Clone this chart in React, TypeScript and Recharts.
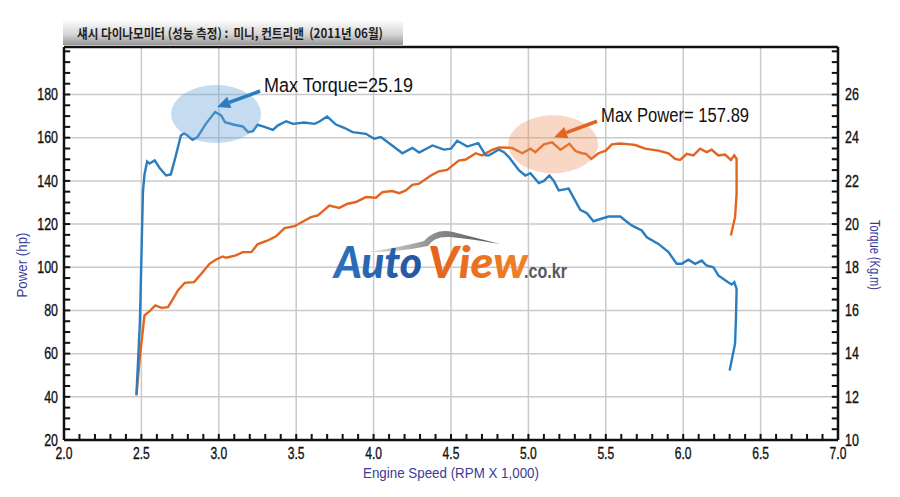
import React from "react";
import {
  CartesianGrid,
  Line,
  LineChart,
  ReferenceDot,
  ReferenceLine,
  XAxis,
  YAxis,
} from "recharts";

// axis ticks (labelled) and the small unlabelled ones in between
const rpmTicks = [2, 2.5, 3, 3.5, 4, 4.5, 5, 5.5, 6, 6.5, 7];
const powerTicks = [20, 40, 60, 80, 100, 120, 140, 160, 180];
const torqueTicks = [10, 12, 14, 16, 18, 20, 22, 24, 26];
const rpmMinorTicks = Array.from({ length: 49 }, (_, i) => +(2.1 + i * 0.1).toFixed(1));
const powerMinorTicks = Array.from({ length: 36 }, (_, i) => 25 + i * 5);
const torqueMinorTicks = Array.from({ length: 36 }, (_, i) => 10.5 + i * 0.5);

// torque curve (Kg.m)
const torqueRpm = [
  2.468, 2.49, 2.51, 2.52, 2.537, 2.553, 2.586, 2.618, 2.66, 2.69, 2.72, 2.755,
  2.776, 2.798, 2.83, 2.862, 2.916, 2.976, 3.015, 3.04, 3.1, 3.155, 3.19, 3.22,
  3.25, 3.295, 3.35, 3.38, 3.435, 3.48, 3.55, 3.62, 3.65, 3.7, 3.757, 3.81,
  3.864, 3.95, 4.004, 4.047, 4.12, 4.186, 4.25, 4.294, 4.38, 4.455, 4.5, 4.54,
  4.605, 4.676, 4.724, 4.745, 4.81, 4.842, 4.874, 4.94, 4.98, 5.013, 5.067, 5.1,
  5.136, 5.164, 5.196, 5.26, 5.29, 5.335, 5.378, 5.42, 5.45, 5.518, 5.593,
  5.667, 5.732, 5.765, 5.84, 5.905, 5.958, 5.99, 6.034, 6.077, 6.12, 6.15,
  6.195, 6.227, 6.29, 6.313, 6.33, 6.345, 6.341, 6.335, 6.3,
];
const torqueKgm = [
  12.1, 15.4, 21.5, 22.3, 22.9, 22.8, 22.95, 22.6, 22.25, 22.3, 23.1, 24.1,
  24.2, 24.1, 23.9, 24.03, 24.64, 25.19, 25.03, 24.72, 24.6, 24.52, 24.26, 24.3,
  24.6, 24.5, 24.36, 24.56, 24.76, 24.64, 24.7, 24.64, 24.75, 24.98, 24.61,
  24.46, 24.26, 24.18, 23.95, 24.03, 23.64, 23.28, 23.53, 23.31, 23.64, 23.45,
  23.49, 23.86, 23.59, 23.75, 23.18, 23.18, 23.45, 23.33, 23.1, 22.48, 22.25,
  22.36, 21.9, 22.0, 22.25, 22.0, 21.56, 21.64, 21.25, 20.66, 20.5, 20.13, 20.2,
  20.35, 20.35, 19.94, 19.7, 19.39, 19.08, 18.7, 18.16, 18.16, 18.35, 18.16,
  18.31, 18.08, 18.0, 17.62, 17.31, 17.2, 17.31, 17.0, 15.69, 14.46, 13.22,
];

// power curve (hp)
const powerRpm = [
  2.468, 2.49, 2.52, 2.553, 2.59, 2.63, 2.672, 2.704, 2.736, 2.78, 2.84, 2.887,
  2.94, 2.983, 3.026, 3.047, 3.11, 3.155, 3.21, 3.25, 3.316, 3.37, 3.425, 3.49,
  3.55, 3.595, 3.64, 3.68, 3.714, 3.778, 3.832, 3.886, 3.95, 4.015, 4.057, 4.12,
  4.165, 4.208, 4.25, 4.294, 4.37, 4.42, 4.475, 4.55, 4.595, 4.66, 4.7, 4.767,
  4.81, 4.895, 4.96, 5.013, 5.045, 5.1, 5.153, 5.207, 5.265, 5.304, 5.346,
  5.372, 5.406, 5.453, 5.5, 5.539, 5.593, 5.658, 5.69, 5.754, 5.84, 5.905,
  5.948, 5.98, 6.023, 6.066, 6.109, 6.152, 6.184, 6.227, 6.27, 6.308, 6.33,
  6.345, 6.345, 6.335, 6.308,
];
const powerHp = [
  40.6, 58.4, 77.7, 79.7, 82.3, 81.2, 81.5, 85.4, 89.3, 92.8, 93.1, 97, 101.6,
  103.6, 105, 104.4, 105.5, 107, 107, 110.6, 112.4, 114.3, 118.1, 119, 121.4,
  123.2, 124, 126.5, 128.6, 127.5, 129.4, 130.2, 132.5, 132.2, 134.8, 135.3,
  134.3, 135.6, 138.2, 138.7, 142.5, 144.4, 145.1, 149.4, 149.9, 152.8, 151.8,
  154.4, 155.5, 155.3, 152.8, 154.9, 153.3, 156.9, 157.89, 154.4, 157.2, 153.8,
  152.8, 152.5, 150.2, 152.8, 154, 156.9, 157.3, 156.9, 156.6, 154.9, 154,
  152.8, 150.2, 149.7, 152.5, 151.8, 154.9, 153.3, 154.4, 151.8, 152.2, 149.7,
  151.8, 150.2, 134, 123.2, 114.7,
];

const maxTorque = { rpm: 2.976, value: 25.19 };
const maxPower = { rpm: 5.153, value: 157.89 };

const torqueData = torqueRpm.map((rpm, i) => ({ rpm, torque: torqueKgm[i] }));
const powerData = powerRpm.map((rpm, i) => ({ rpm, power: powerHp[i] }));

const LABEL_COLOR = "#3b3b98";
const BLUE = "#2a7dbf";
const ORANGE = "#e2651f";

// length of the little inward ticks, in axis units (about 6px each)
const RPM_TICK_LEN = 0.04;
const POWER_TICK_LEN = 2.8;

// condensed tick label, like the dyno software's narrow font
function NarrowTick(props: any) {
  const { x, y, textAnchor, payload, fixed, side } = props;
  const value = payload.value as number;
  const label = fixed ? value.toFixed(fixed) : String(value);
  const digits = label.replace(/[^0-9]/g, "").length;
  const dots = label.length - digits;
  return (
    <text
      x={x}
      y={y}
      dy={side === "bottom" ? "0.71em" : "0.36em"}
      textAnchor={textAnchor}
      fontSize={16}
      fontFamily="'Liberation Sans', Arial, sans-serif"
      fill="#111"
      stroke="#111"
      strokeWidth={0.35}
      textLength={digits * 6.9 + dots * 3}
      lengthAdjust="spacingAndGlyphs"
    >
      {label}
    </text>
  );
}

function Callout({
  cx,
  cy,
  text,
  textWidth,
  color,
  haze,
}: {
  cx: number;
  cy: number;
  text: string;
  textWidth: number;
  color: string;
  haze: string;
}) {
  const tail = { x: cx + 45, y: cy - 21 };
  const tip = { x: cx + 2, y: cy - 5 };
  const dx = tip.x - tail.x;
  const dy = tip.y - tail.y;
  const len = Math.hypot(dx, dy);
  const ux = dx / len;
  const uy = dy / len;
  const bx = tip.x - ux * 13;
  const by = tip.y - uy * 13;
  const px = -uy * 6;
  const py = ux * 6;
  return (
    <g>
      <ellipse cx={cx + 1} cy={cy + 2} rx={45} ry={29} fill={haze} />
      <line
        x1={tail.x}
        y1={tail.y}
        x2={bx}
        y2={by}
        stroke={color}
        strokeWidth={3.5}
      />
      <polygon
        points={`${tip.x},${tip.y} ${bx + px},${by + py} ${bx - px},${by - py}`}
        fill={color}
      />
      <text
        x={cx + 49}
        y={cy - 20}
        fontSize={20}
        fontFamily="'Liberation Sans', Arial, sans-serif"
        fill="#111"
        textLength={textWidth}
        lengthAdjust="spacingAndGlyphs"
        style={{ whiteSpace: "pre" }}
      >
        {text}
      </text>
    </g>
  );
}

function Overlay() {
  return (
    <svg
      width={900}
      height={497}
      style={{ position: "absolute", left: 0, top: 0, pointerEvents: "none" }}
    >
      <defs>
        <linearGradient id="titleBar" x1="0" y1="0" x2="0" y2="1">
          <stop offset="0" stopColor="#fafafa" />
          <stop offset="0.55" stopColor="#d6d6d6" />
          <stop offset="1" stopColor="#969696" />
        </linearGradient>
        <linearGradient id="autoFill" x1="0" y1="0" x2="1" y2="0">
          <stop offset="0" stopColor="#2d73bd" />
          <stop offset="1" stopColor="#1c2f7e" />
        </linearGradient>
        <linearGradient id="viewFill" x1="0" y1="0" x2="1" y2="0">
          <stop offset="0" stopColor="#d9431b" />
          <stop offset="1" stopColor="#f08324" />
        </linearGradient>
        <linearGradient id="swoosh" x1="0" y1="0" x2="1" y2="0">
          <stop offset="0" stopColor="#e4e4e4" />
          <stop offset="0.5" stopColor="#8e8e8e" />
          <stop offset="1" stopColor="#555" />
        </linearGradient>
      </defs>

      <rect x={63} y={21} width={340} height={24} fill="url(#titleBar)" />
      <text
        x={77}
        y={38}
        fontSize={13}
        fontWeight="bold"
        fontFamily="'Noto Sans CJK KR', sans-serif"
        fill="#1e1e1e"
        textLength={306}
        lengthAdjust="spacingAndGlyphs"
        style={{ whiteSpace: "pre" }}
      >
        섀시 다이나모미터 (성능 측정) :  미니, 컨트리맨  (2011년 06월)
      </text>

      <g transform="translate(27,265) rotate(-90)">
        <text
          textAnchor="middle"
          fontSize={14}
          fontFamily="'Liberation Sans', Arial, sans-serif"
          fill={LABEL_COLOR}
          textLength={65}
          lengthAdjust="spacingAndGlyphs"
        >
          Power (hp)
        </text>
      </g>
      <g transform="translate(870,255) rotate(90)">
        <text
          textAnchor="middle"
          fontSize={14}
          fontFamily="'Liberation Sans', Arial, sans-serif"
          fill={LABEL_COLOR}
          textLength={70}
          lengthAdjust="spacingAndGlyphs"
        >
          Torque (Kg.m)
        </text>
      </g>
      <text
        x={451}
        y={478}
        textAnchor="middle"
        fontSize={15}
        fontFamily="'Liberation Sans', Arial, sans-serif"
        fill={LABEL_COLOR}
        textLength={176}
        lengthAdjust="spacingAndGlyphs"
      >
        Engine Speed (RPM X 1,000)
      </text>

      {/* AutoView watermark */}
      <path
        d="M366,252 Q398,248 424,241 Q436,228 453,232 L500,244 Q472,239 450,237 Q434,236 428,246 Q400,252 366,252 Z"
        fill="url(#swoosh)"
      />
      <text
        y={278}
        fontSize={44}
        fontWeight={900}
        fontStyle="italic"
        fontFamily="Lato, 'DejaVu Sans', sans-serif"
      >
        <tspan x={334} fill="url(#autoFill)" textLength={88} lengthAdjust="spacingAndGlyphs">
          Auto
        </tspan>
        <tspan x={428} fill="url(#viewFill)" textLength={100} lengthAdjust="spacingAndGlyphs">
          View
        </tspan>
      </text>
      <text
        x={524}
        y={278}
        fontSize={20}
        fontWeight="bold"
        fontFamily="'Liberation Sans', Arial, sans-serif"
        fill="#5a5a5a"
        textLength={43}
        lengthAdjust="spacingAndGlyphs"
      >
        .co.kr
      </text>
    </svg>
  );
}

export default function App() {
  return (
    <div
      style={{
        position: "absolute",
        left: 0,
        top: 0,
        width: 900,
        height: 497,
        background: "#fff",
      }}
    >
      <LineChart
        width={900}
        height={497}
        margin={{ top: 47, right: 0, bottom: 0, left: 0 }}
      >
        <CartesianGrid
          yAxisId="left"
          stroke="#cacaca"
          strokeWidth={1.5}
          horizontalValues={powerTicks}
          verticalValues={rpmTicks}
        />
        <XAxis
          dataKey="rpm"
          type="number"
          domain={[2, 7]}
          ticks={rpmTicks}
          interval={0}
          allowDataOverflow
          height={57}
          tickLine={false}
          tickSize={0}
          tickMargin={8}
          tick={<NarrowTick fixed={1} side="bottom" />}
          axisLine={{ stroke: "#111", strokeWidth: 2.5 }}
        />
        <XAxis
          xAxisId="top"
          orientation="top"
          type="number"
          domain={[2, 7]}
          ticks={[]}
          mirror
          tick={false}
          tickLine={false}
          axisLine={{ stroke: "#111", strokeWidth: 2.5 }}
        />
        <YAxis
          yAxisId="left"
          type="number"
          domain={[20, 202]}
          ticks={powerTicks}
          interval={0}
          allowDataOverflow
          width={64}
          tickLine={false}
          tickSize={0}
          tickMargin={6}
          tick={<NarrowTick side="left" />}
          axisLine={{ stroke: "#111", strokeWidth: 2.5 }}
        />
        <YAxis
          yAxisId="right"
          orientation="right"
          type="number"
          domain={[10, 28.2]}
          ticks={torqueTicks}
          interval={0}
          allowDataOverflow
          width={62}
          tickLine={false}
          tickSize={0}
          tickMargin={7}
          tick={<NarrowTick side="right" />}
          axisLine={{ stroke: "#111", strokeWidth: 2.5 }}
        />
        {rpmMinorTicks.map((v) => (
          <ReferenceLine
            key={`rx${v}`}
            yAxisId="left"
            segment={[
              { x: v, y: 20 },
              { x: v, y: 20 + POWER_TICK_LEN },
            ]}
            stroke="#111"
            strokeWidth={2}
            ifOverflow="extendDomain"
          />
        ))}
        {powerMinorTicks.map((v) => (
          <ReferenceLine
            key={`pl${v}`}
            yAxisId="left"
            segment={[
              { x: 2, y: v },
              { x: 2 + RPM_TICK_LEN, y: v },
            ]}
            stroke="#111"
            strokeWidth={2}
            ifOverflow="extendDomain"
          />
        ))}
        {torqueMinorTicks.map((v) => (
          <ReferenceLine
            key={`tr${v}`}
            yAxisId="right"
            segment={[
              { x: 7 - RPM_TICK_LEN, y: v },
              { x: 7, y: v },
            ]}
            stroke="#111"
            strokeWidth={2}
            ifOverflow="extendDomain"
          />
        ))}
        <Line
          data={powerData}
          dataKey="power"
          yAxisId="left"
          type="linear"
          stroke={ORANGE}
          strokeWidth={2.4}
          dot={false}
          isAnimationActive={false}
        />
        <Line
          data={torqueData}
          dataKey="torque"
          yAxisId="right"
          type="linear"
          stroke={BLUE}
          strokeWidth={2.4}
          dot={false}
          isAnimationActive={false}
        />
        <ReferenceDot
          yAxisId="right"
          x={maxTorque.rpm}
          y={maxTorque.value}
          shape={(p: any) => (
            <Callout
              cx={p.cx}
              cy={p.cy}
              text={`Max Torque=${maxTorque.value}`}
              textWidth={149}
              color={BLUE}
              haze="rgba(110,165,215,0.4)"
            />
          )}
        />
        <ReferenceDot
          yAxisId="left"
          x={maxPower.rpm}
          y={maxPower.value}
          shape={(p: any) => (
            <Callout
              cx={p.cx}
              cy={p.cy}
              text={`Max Power= ${maxPower.value}`}
              textWidth={148}
              color={ORANGE}
              haze="rgba(235,140,90,0.35)"
            />
          )}
        />
      </LineChart>
      <Overlay />
    </div>
  );
}
